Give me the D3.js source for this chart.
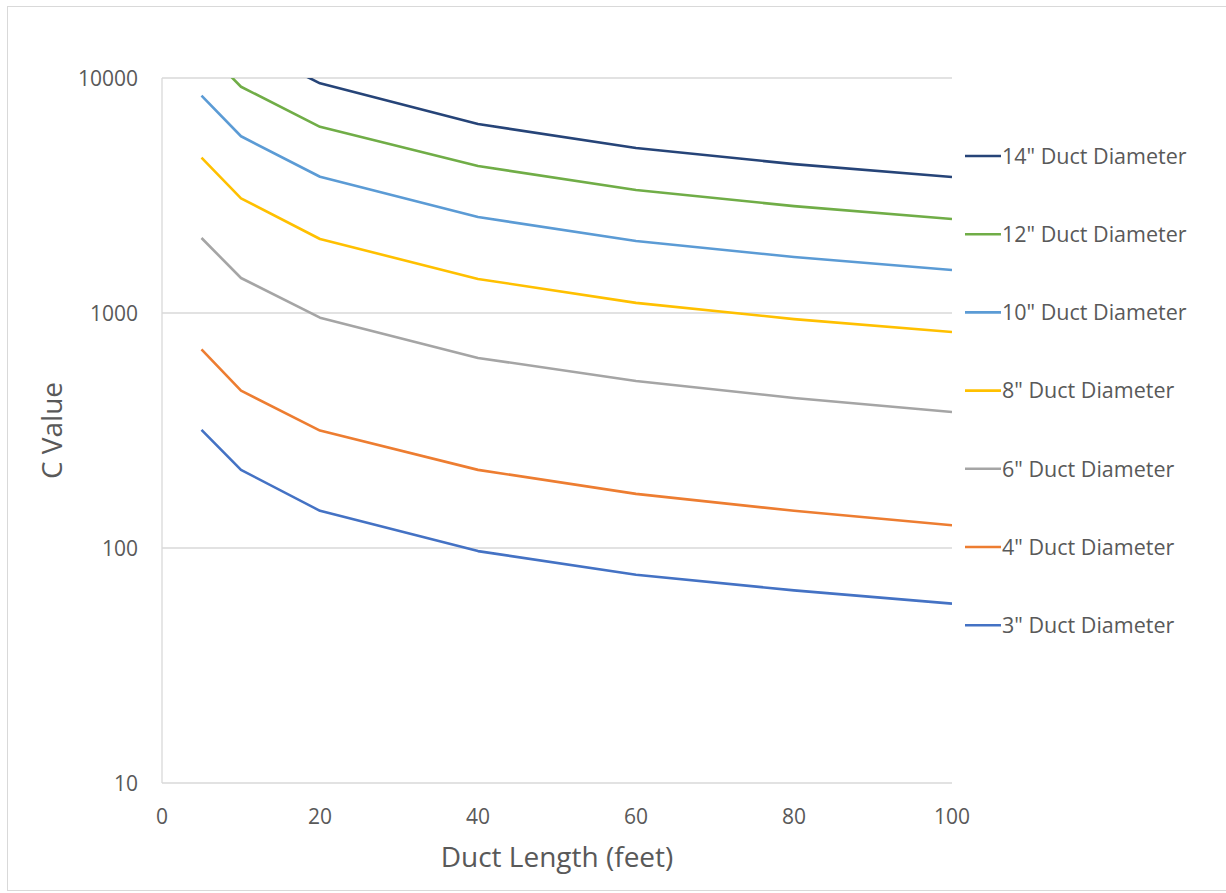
<!DOCTYPE html>
<html>
<head>
<meta charset="utf-8">
<style>
body { margin: 0; background: #fff; }
text { font-family: "Open Sans", "Noto Sans", sans-serif; fill: #595959; }
.grid line { stroke: #d9d9d9; stroke-width: 1.3; }
.series { fill: none; stroke-width: 2.6; stroke-linejoin: round; }
</style>
</head>
<body>
<script src="https://d3js.org/d3.v7.min.js"></script>
<script>
// duct length (feet)
var lengths = [5, 10, 20, 40, 60, 80, 100];

// C values per duct diameter
var d3in  = [318, 215, 144, 97, 77, 66, 58];
var d4in  = [700, 467, 316, 215, 170, 144, 125];
var d6in  = [2085, 1409, 955, 644, 514, 435, 379];
var d8in  = [4580, 3076, 2065, 1396, 1104, 942, 830];
var d10in = [8410, 5650, 3800, 2560, 2025, 1730, 1525];
var d12in = [13600, 9180, 6200, 4220, 3340, 2850, 2510];
var d14in = [20800, 14000, 9490, 6370, 5040, 4300, 3790];

var seriesNames  = ['3" Duct Diameter', '4" Duct Diameter', '6" Duct Diameter', '8" Duct Diameter',
                    '10" Duct Diameter', '12" Duct Diameter', '14" Duct Diameter'];
var seriesValues = [d3in, d4in, d6in, d8in, d10in, d12in, d14in];
var seriesColors = ["#4472c4", "#ed7d31", "#a5a5a5", "#ffc000", "#5b9bd5", "#70ad47", "#264478"];

var xTicks = [0, 20, 40, 60, 80, 100];
var yTicks = [10, 100, 1000, 10000];

var width = 1226, height = 893;
var margin = {left: 162, top: 78, right: 274, bottom: 110};

var svg = d3.select("body").append("svg")
	.attr("width", width)
	.attr("height", height);

// chart frame
svg.append("rect")
	.attr("x", 7.5).attr("y", 6.5)
	.attr("width", 1240).attr("height", 884)
	.attr("fill", "none")
	.attr("stroke", "#d9d9d9");

var x = d3.scaleLinear()
	.domain([0, 100])
	.range([margin.left, width - margin.right]);

var y = d3.scaleLog()
	.domain([10, 10000])
	.range([height - margin.bottom, margin.top]);

// gridlines
svg.append("g").attr("class", "grid")
	.selectAll("line")
	.data(yTicks)
	.enter().append("line")
	.attr("x1", x(0)).attr("x2", x(100))
	.attr("y1", function(d) { return y(d); })
	.attr("y2", function(d) { return y(d); });

svg.append("g").attr("class", "grid")
	.append("line")
	.attr("x1", x(0)).attr("x2", x(0))
	.attr("y1", y(10)).attr("y2", y(10000));

// y tick labels
svg.append("g")
	.selectAll("text")
	.data(yTicks)
	.enter().append("text")
	.attr("x", x(0) - 24)
	.attr("y", function(d) { return y(d); })
	.attr("dy", "0.36em")
	.attr("text-anchor", "end")
	.style("font-size", "21px")
	.text(function(d) { return d; });

// x tick labels
svg.append("g")
	.selectAll("text")
	.data(xTicks)
	.enter().append("text")
	.attr("x", function(d) { return x(d); })
	.attr("y", y(10) + 41)
	.attr("text-anchor", "middle")
	.style("font-size", "21px")
	.text(function(d) { return d; });

// axis titles
svg.append("text")
	.attr("x", (x(0) + x(100)) / 2)
	.attr("y", 867)
	.attr("text-anchor", "middle")
	.style("font-size", "28px")
	.text("Duct Length (feet)");

svg.append("text")
	.attr("transform", "translate(62," + ((y(10) + y(10000)) / 2) + ") rotate(-90)")
	.attr("text-anchor", "middle")
	.style("font-size", "28px")
	.text("C Value");

// clip lines to the plot area
svg.append("clipPath").attr("id", "plot")
	.append("rect")
	.attr("x", x(0)).attr("y", y(10000))
	.attr("width", x(100) - x(0))
	.attr("height", y(10) - y(10000));

var line = d3.line()
	.x(function(d, i) { return x(lengths[i]); })
	.y(function(d) { return y(d); });

svg.append("g")
	.attr("clip-path", "url(#plot)")
	.selectAll("path")
	.data(seriesValues)
	.enter().append("path")
	.attr("class", "series")
	.attr("stroke", function(d, i) { return seriesColors[i]; })
	.attr("d", line);

// legend, top to bottom = largest diameter first
var legend = svg.append("g")
	.selectAll("g")
	.data(d3.range(seriesNames.length).reverse())
	.enter().append("g")
	.attr("transform", function(d, i) { return "translate(965," + (156 + i * 78.2) + ")"; });

legend.append("line")
	.attr("x1", 0).attr("x2", 36)
	.attr("stroke-width", 2.6)
	.attr("stroke", function(d) { return seriesColors[d]; });

legend.append("text")
	.attr("x", 37)
	.attr("dy", "0.36em")
	.style("font-size", "21.5px")
	.text(function(d) { return seriesNames[d]; });
</script>
</body>
</html>
